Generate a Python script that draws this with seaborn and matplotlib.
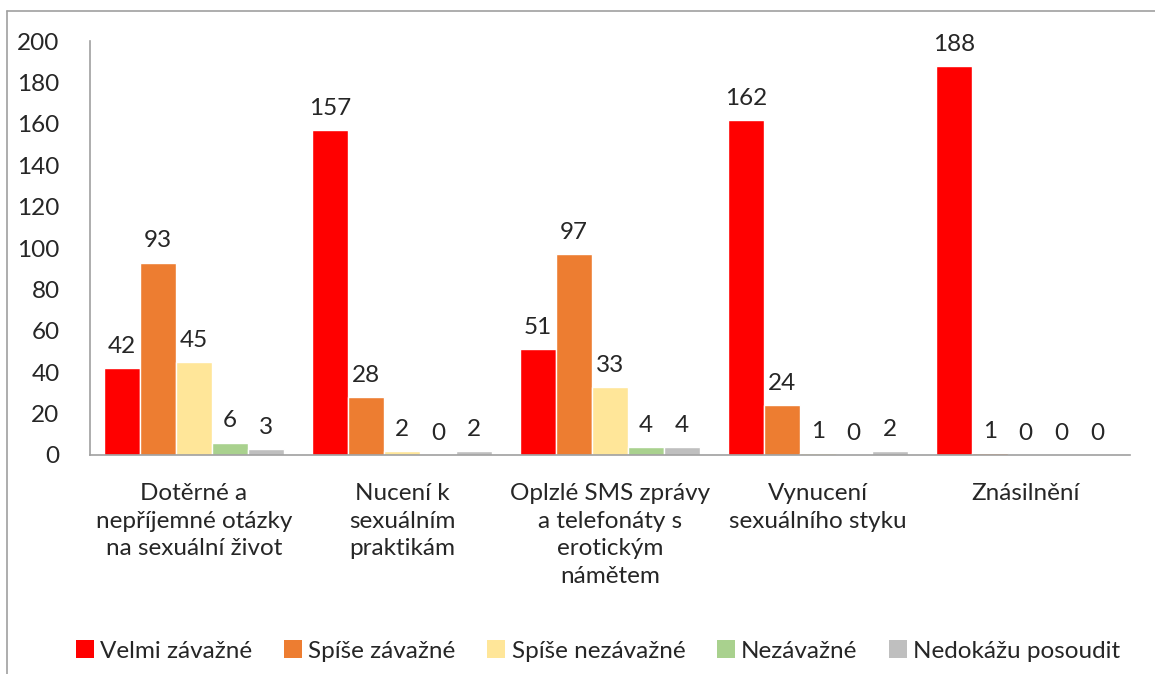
import pandas as pd
import matplotlib.pyplot as plt
import seaborn as sns
from matplotlib.lines import Line2D
from matplotlib.patches import Patch

# Chart data
categories = ['Dotěrné a\nnepříjemné otázky\nna sexuální život',
              'Nucení k\nsexuálním\npraktikám',
              'Oplzlé SMS zprávy\na telefonáty s\nerotickým\nnámětem',
              'Vynucení\nsexuálního styku',
              'Znásilnění']
series = ['Velmi závažné', 'Spíše závažné', 'Spíše nezávažné', 'Nezávažné', 'Nedokážu posoudit']
velmi = [42, 157, 51, 162, 188]
spise_zav = [93, 28, 97, 24, 1]
spise_nezav = [45, 2, 33, 1, 0]
nezav = [6, 0, 4, 0, 0]
nedokazu = [3, 2, 4, 2, 0]
colors = ['#FF0000', '#ED7D31', '#FFE699', '#A9D18E', '#BFBFBF']

rows = []
for name, vals in zip(series, [velmi, spise_zav, spise_nezav, nezav, nedokazu]):
    for cat, v in zip(categories, vals):
        rows.append({'cat': cat, 'series': name, 'value': v})
df = pd.DataFrame(rows)

sns.set_style('white')
plt.rcParams['font.family'] = ['Lato', 'DejaVu Sans']

fig = plt.figure(figsize=(11.55, 6.74), dpi=100)
ax = fig.add_axes([0.078, 0.325, 0.9, 0.614])

sns.barplot(data=df, x='cat', y='value', hue='series', order=categories,
            hue_order=series, palette=colors, width=0.865, saturation=1,
            ax=ax, legend=False)

for cont in ax.containers:
    ax.bar_label(cont, fmt='%d', padding=8, fontsize=17.5)

ax.set_ylim(0, 200)
ax.set_yticks(range(0, 201, 20))
ax.set_xlim(-0.5, 4.5)
ax.set_xlabel('')
ax.set_ylabel('')
ax.tick_params(axis='both', labelsize=17.5, length=0)
ax.tick_params(axis='y', pad=22)
ax.tick_params(axis='x', pad=20)
for lbl in ax.get_xticklabels():
    lbl.set_linespacing(1.4)
for s in ['top', 'right']:
    ax.spines[s].set_visible(False)
for s in ['left', 'bottom']:
    ax.spines[s].set_color('#A0A0A0')
    ax.spines[s].set_linewidth(1.2)

handles = [Patch(facecolor=c, edgecolor='none') for c in colors]
fig.legend(handles, series, loc='center', bbox_to_anchor=(0.518, 0.034),
           ncol=5, frameon=False, fontsize=17.5, handlelength=0.75,
           handleheight=0.75, handletextpad=0.25, columnspacing=1.3)

# outer chart border (top and left visible)
fig.add_artist(Line2D([7 / 1155, 7 / 1155], [0, 1 - 11 / 674],
                      transform=fig.transFigure, color='#A0A0A0', lw=1.2))
fig.add_artist(Line2D([7 / 1155, 1], [1 - 11 / 674, 1 - 11 / 674],
                      transform=fig.transFigure, color='#A0A0A0', lw=1.2))

fig.savefig('out.png', dpi=100)
